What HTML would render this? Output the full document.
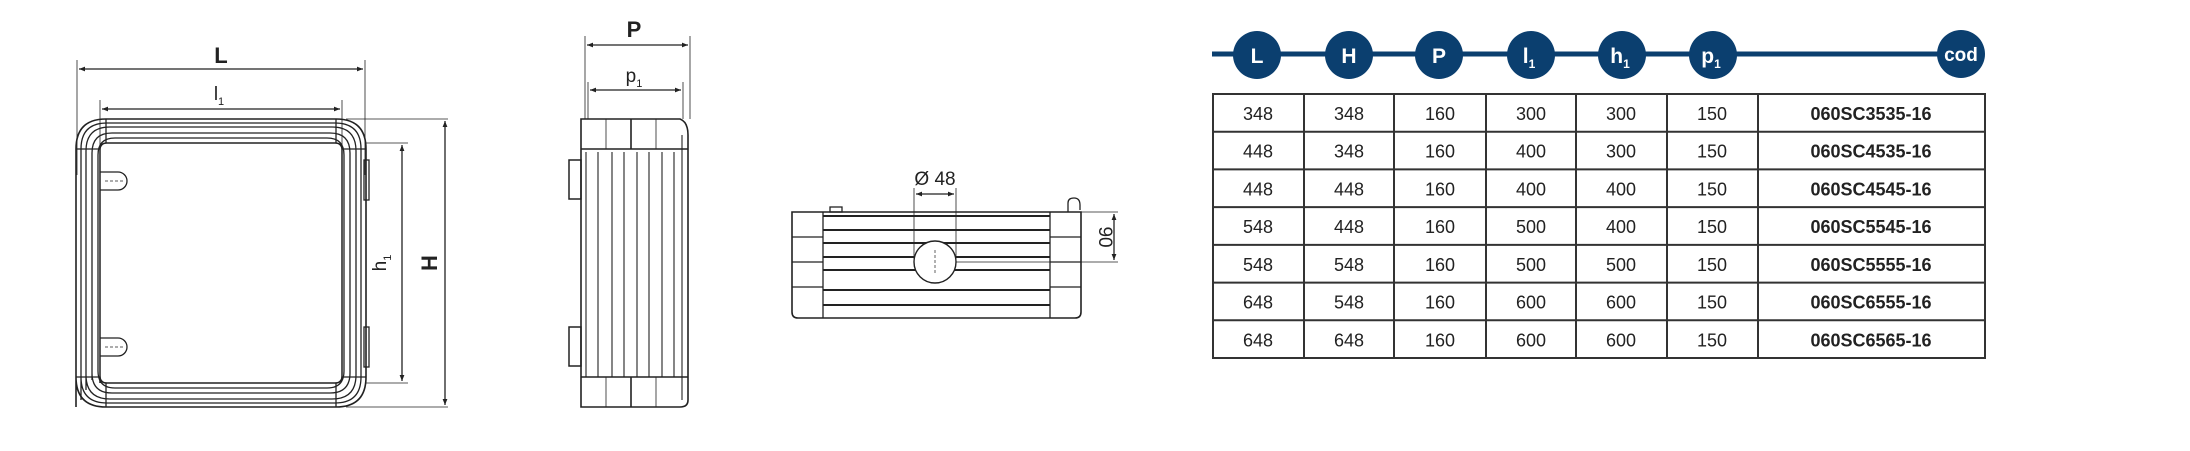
<!DOCTYPE html>
<html><head><style>
html,body{margin:0;padding:0;background:#fff;}
svg{display:block;}
text{font-family:"Liberation Sans",sans-serif;}
</style></head><body>
<svg width="2190" height="451" viewBox="0 0 2190 451" xmlns="http://www.w3.org/2000/svg">
<defs>
<marker id="a" viewBox="0 0 10 10" refX="10" refY="5" markerWidth="10" markerHeight="6" orient="auto-start-reverse" markerUnits="userSpaceOnUse"><path d="M0,1 L10,5 L0,9 z" fill="#222"/></marker>
</defs>
<g stroke="#222" fill="none" stroke-width="1.3">
<!-- FRONT VIEW -->
<line x1="77" y1="60" x2="77" y2="175" stroke-width="0.8"/>
<line x1="365" y1="60" x2="365" y2="175" stroke-width="0.8"/>
<line x1="79" y1="69" x2="363" y2="69" marker-start="url(#a)" marker-end="url(#a)"/>
<line x1="100" y1="100" x2="100" y2="145" stroke-width="0.8"/>
<line x1="342" y1="100" x2="342" y2="145" stroke-width="0.8"/>
<line x1="102" y1="109" x2="340" y2="109" marker-start="url(#a)" marker-end="url(#a)"/>
<path d="M76,407 V149 Q76,119 106,119 H336 Q366,119 366,149 V377 Q366,407 336,407 H106 Q76,407 76,377 Z" stroke-width="1.6"/>
<path d="M81,400 V149 Q81,123 107,123 H335 Q361,123 361,149 V377 Q361,403 335,403 H107 Q81,403 81,377 Z"/>
<path d="M86,390 V151 Q86,127 110,127 H332 Q356,127 356,151 V375 Q356,399 332,399 H110 Q86,399 86,375 Z"/>
<path d="M92,380 V153 Q92,133 112,133 H330 Q350,133 350,153 V373 Q350,393 330,393 H112 Q92,393 92,373 Z"/>
<path d="M98,370 V155 Q98,138 115,138 H327 Q344,138 344,155 V371 Q344,388 327,388 H115 Q98,388 98,371 Z"/>
<path d="M100,383 V150 Q100,143 107,143 H335 Q342,143 342,150 V376 Q342,383 335,383 H107 Q100,383 100,376 Z" stroke-width="1.5"/>
<line x1="76" y1="149" x2="100" y2="149"/><line x1="342" y1="149" x2="366" y2="149"/>
<line x1="76" y1="377" x2="100" y2="377"/><line x1="342" y1="377" x2="366" y2="377"/>
<line x1="106" y1="119" x2="106" y2="143"/><line x1="336" y1="119" x2="336" y2="143"/>
<line x1="106" y1="383" x2="106" y2="407"/><line x1="336" y1="383" x2="336" y2="407"/>
<path d="M100,172 H118 A9,9 0 0 1 118,190 H100"/><path d="M100,338 H118 A9,9 0 0 1 118,356 H100"/>
<line x1="105" y1="181" x2="125" y2="181" stroke-dasharray="3,2" stroke-width="0.8"/>
<line x1="105" y1="347" x2="125" y2="347" stroke-dasharray="3,2" stroke-width="0.8"/>
<rect x="364" y="160" width="5" height="40"/><rect x="364" y="327" width="5" height="40"/>
<line x1="346" y1="119" x2="448" y2="119" stroke-width="0.8"/>
<line x1="346" y1="407" x2="448" y2="407" stroke-width="0.8"/>
<line x1="366" y1="143" x2="408" y2="143" stroke-width="0.8"/>
<line x1="366" y1="383" x2="408" y2="383" stroke-width="0.8"/>
<line x1="445" y1="121" x2="445" y2="405" marker-start="url(#a)" marker-end="url(#a)"/>
<line x1="402" y1="145" x2="402" y2="381" marker-start="url(#a)" marker-end="url(#a)"/>
<!-- SIDE VIEW -->
<line x1="585" y1="36" x2="585" y2="119" stroke-width="0.8"/>
<line x1="690" y1="36" x2="690" y2="119" stroke-width="0.8"/>
<line x1="587" y1="45" x2="688" y2="45" marker-start="url(#a)" marker-end="url(#a)"/>
<line x1="588" y1="82" x2="588" y2="119" stroke-width="0.8"/>
<line x1="683" y1="82" x2="683" y2="119" stroke-width="0.8"/>
<line x1="590" y1="90" x2="681" y2="90" marker-start="url(#a)" marker-end="url(#a)"/>
<path d="M581,119 H680 Q688,122 688,135 V400 Q688,407 680,407 H581 Z" stroke-width="1.6"/>
<line x1="581" y1="149" x2="688" y2="149" stroke-width="1.6"/>
<line x1="581" y1="377" x2="688" y2="377" stroke-width="1.6"/>
<line x1="631" y1="119" x2="631" y2="149" stroke-width="1.6"/>
<line x1="631" y1="377" x2="631" y2="407" stroke-width="1.6"/>
<line x1="606" y1="119" x2="606" y2="149" stroke-width="0.8"/><line x1="656" y1="119" x2="656" y2="149" stroke-width="0.8"/>
<line x1="606" y1="377" x2="606" y2="407" stroke-width="0.8"/><line x1="656" y1="377" x2="656" y2="407" stroke-width="0.8"/>
<g stroke-width="1.1">
<line x1="586" y1="152" x2="586" y2="377"/><line x1="598" y1="152" x2="598" y2="377"/>
<line x1="612" y1="152" x2="612" y2="377"/><line x1="624" y1="152" x2="624" y2="377"/>
<line x1="637" y1="152" x2="637" y2="377"/><line x1="649" y1="152" x2="649" y2="377"/>
<line x1="662" y1="152" x2="662" y2="377"/><line x1="674" y1="152" x2="674" y2="377"/>
<line x1="682" y1="135" x2="682" y2="400"/>
</g>
<rect x="569" y="160" width="12" height="39" stroke-width="1.5"/>
<rect x="569" y="327" width="12" height="39" stroke-width="1.5"/>
<!-- BOTTOM VIEW -->
<path d="M792,212 H1081 V312 Q1081,318 1075,318 H798 Q792,318 792,312 Z" stroke-width="1.6"/>
<line x1="823" y1="212" x2="823" y2="318"/><line x1="1050" y1="212" x2="1050" y2="318"/>
<line x1="792" y1="237" x2="823" y2="237"/><line x1="792" y1="262" x2="823" y2="262"/><line x1="792" y1="287" x2="823" y2="287"/>
<line x1="1050" y1="237" x2="1081" y2="237"/><line x1="1050" y1="262" x2="1081" y2="262"/><line x1="1050" y1="287" x2="1081" y2="287"/>
<g stroke-width="2">
<line x1="823" y1="216" x2="1050" y2="216"/><line x1="823" y1="230" x2="1050" y2="230"/>
<line x1="823" y1="243" x2="1050" y2="243"/><line x1="823" y1="257" x2="1050" y2="257"/>
<line x1="823" y1="270" x2="1050" y2="270"/><line x1="823" y1="290" x2="1050" y2="290"/>
<line x1="823" y1="305" x2="1050" y2="305"/>
</g>
<circle cx="935" cy="262" r="21" fill="#fff" stroke-width="1.4"/>
<line x1="935" y1="250" x2="935" y2="274" stroke-dasharray="3,2" stroke-width="0.7"/>
<line x1="914" y1="188" x2="914" y2="262" stroke-width="0.8"/>
<line x1="956" y1="188" x2="956" y2="262" stroke-width="0.8"/>
<line x1="916" y1="194" x2="954" y2="194" marker-start="url(#a)" marker-end="url(#a)"/>
<line x1="1081" y1="212" x2="1118" y2="212" stroke-width="0.8"/>
<line x1="956" y1="262" x2="1118" y2="262" stroke-width="0.8"/>
<line x1="1114" y1="214" x2="1114" y2="260" marker-start="url(#a)" marker-end="url(#a)"/>
<path d="M1068,212 V203 Q1068,198 1074,198 Q1080,198 1080,205 V210"/>
<rect x="830" y="207" width="12" height="5"/>
<!-- TABLE -->
<g stroke="#333" stroke-width="2">
<rect x="1213" y="94" width="772" height="264"/>
<line x1="1213" y1="131.7" x2="1985" y2="131.7"/><line x1="1213" y1="169.4" x2="1985" y2="169.4"/>
<line x1="1213" y1="207.1" x2="1985" y2="207.1"/><line x1="1213" y1="244.9" x2="1985" y2="244.9"/>
<line x1="1213" y1="282.6" x2="1985" y2="282.6"/><line x1="1213" y1="320.3" x2="1985" y2="320.3"/>
<line x1="1304" y1="94" x2="1304" y2="358"/><line x1="1394" y1="94" x2="1394" y2="358"/>
<line x1="1486" y1="94" x2="1486" y2="358"/><line x1="1576" y1="94" x2="1576" y2="358"/>
<line x1="1667" y1="94" x2="1667" y2="358"/><line x1="1758" y1="94" x2="1758" y2="358"/>
</g>
</g>
<line x1="1212" y1="54" x2="1960" y2="54" stroke="#0b3f6f" stroke-width="5"/>
<g fill="#0b3f6f">
<ellipse cx="1257" cy="55" rx="24" ry="24"/><ellipse cx="1349" cy="55" rx="24" ry="24"/>
<ellipse cx="1439" cy="55" rx="24" ry="24"/><ellipse cx="1531" cy="55" rx="24" ry="24"/>
<ellipse cx="1622" cy="55" rx="24" ry="24"/><ellipse cx="1713" cy="55" rx="24" ry="24"/>
<ellipse cx="1961" cy="54" rx="24" ry="24"/>
</g>
<g fill="#fff" font-weight="bold" font-size="21" text-anchor="middle">
<text x="1257" y="63">L</text><text x="1349" y="63">H</text><text x="1439" y="63">P</text>
<text x="1529" y="63">l<tspan font-size="12" dy="5">1</tspan></text>
<text x="1620" y="63">h<tspan font-size="12" dy="5">1</tspan></text>
<text x="1711" y="63">p<tspan font-size="12" dy="5">1</tspan></text>
<text x="1961" y="61" font-size="19">cod</text>
</g>
<g fill="#222" font-size="18" text-anchor="middle">
<g transform="translate(0,120)">
<text x="1258">348</text><text x="1349">348</text><text x="1440">160</text><text x="1531">300</text><text x="1621">300</text><text x="1712">150</text><text x="1871" font-weight="bold">060SC3535-16</text></g>
<g transform="translate(0,157.7)">
<text x="1258">448</text><text x="1349">348</text><text x="1440">160</text><text x="1531">400</text><text x="1621">300</text><text x="1712">150</text><text x="1871" font-weight="bold">060SC4535-16</text></g>
<g transform="translate(0,195.4)">
<text x="1258">448</text><text x="1349">448</text><text x="1440">160</text><text x="1531">400</text><text x="1621">400</text><text x="1712">150</text><text x="1871" font-weight="bold">060SC4545-16</text></g>
<g transform="translate(0,233.1)">
<text x="1258">548</text><text x="1349">448</text><text x="1440">160</text><text x="1531">500</text><text x="1621">400</text><text x="1712">150</text><text x="1871" font-weight="bold">060SC5545-16</text></g>
<g transform="translate(0,270.9)">
<text x="1258">548</text><text x="1349">548</text><text x="1440">160</text><text x="1531">500</text><text x="1621">500</text><text x="1712">150</text><text x="1871" font-weight="bold">060SC5555-16</text></g>
<g transform="translate(0,308.6)">
<text x="1258">648</text><text x="1349">548</text><text x="1440">160</text><text x="1531">600</text><text x="1621">600</text><text x="1712">150</text><text x="1871" font-weight="bold">060SC6555-16</text></g>
<g transform="translate(0,346.3)">
<text x="1258">648</text><text x="1349">648</text><text x="1440">160</text><text x="1531">600</text><text x="1621">600</text><text x="1712">150</text><text x="1871" font-weight="bold">060SC6565-16</text></g>
</g>
<g fill="#222" text-anchor="middle">
<text x="221" y="63" font-size="22" font-weight="bold">L</text>
<text x="219" y="100" font-size="19">l<tspan font-size="11" dy="5">1</tspan></text>
<text x="634" y="37" font-size="22" font-weight="bold">P</text>
<text x="634" y="82" font-size="19">p<tspan font-size="11" dy="5">1</tspan></text>
<text x="935" y="185" font-size="19">Ø 48</text>
<text transform="translate(1099,237) rotate(90)" font-size="19">90</text>
<text transform="translate(386,263) rotate(-90)" font-size="19">h<tspan font-size="11" dy="5">1</tspan></text>
<text transform="translate(437,263) rotate(-90)" font-size="22" font-weight="bold">H</text>
</g>
</svg>
</body></html>
